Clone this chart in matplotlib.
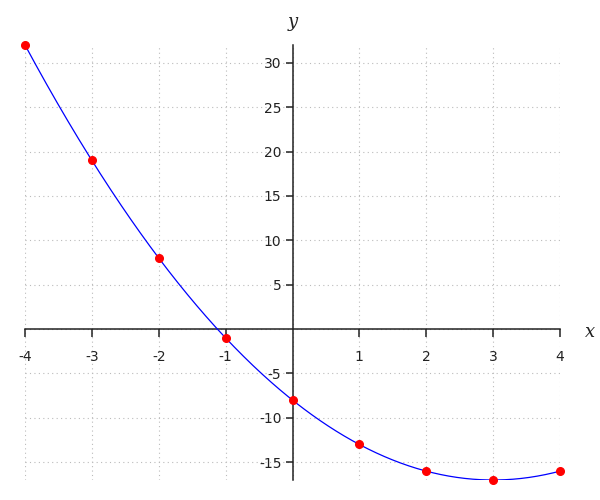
import matplotlib
matplotlib.use("Agg")
import matplotlib.pyplot as plt
import numpy as np

# data points
xs = [-4, -3, -2, -1, 0, 1, 2, 3, 4]
ys = [32, 19, 8, -1, -8, -13, -16, -17, -16]
xticks = [-4, -3, -2, -1, 1, 2, 3, 4]
yticks = [-15, -10, -5, 5, 10, 15, 20, 25, 30]

plt.rcParams['axes.unicode_minus'] = False

fig = plt.figure(figsize=(6, 5), dpi=100)
ax = fig.add_axes([25 / 600, 20 / 500, 535 / 600, 435 / 500])

# smooth curve through the points (quadratic fit of the read values)
coef = np.polyfit(xs, ys, 2)
xx = np.linspace(min(xs), max(xs), 400)
ax.plot(xx, np.polyval(coef, xx), color='blue', lw=0.9, zorder=3)
ax.plot(xs, ys, 'o', color='red', ms=5.5, zorder=4, clip_on=False)

ax.set_xlim(-4, 4)
ax.set_ylim(-17, 32)

for s in ['top', 'right']:
    ax.spines[s].set_visible(False)
ax.spines['left'].set_position(('data', 0))
ax.spines['bottom'].set_position(('data', 0))
for s in ['left', 'bottom']:
    ax.spines[s].set_color('#222222')
    ax.spines[s].set_linewidth(1.1)

ax.set_xticks(xticks)
ax.set_yticks(yticks)
ax.set_xticklabels([str(t) for t in xticks])
ax.set_yticklabels([str(t) for t in yticks])
ax.tick_params(axis='x', direction='out', length=6, width=1.1, pad=9,
               labelsize=10, colors='#222222')
ax.tick_params(axis='y', direction='out', length=5, width=1.1, pad=3,
               labelsize=10, colors='#222222')

# dotted grid at every integer / every 5
for gx in range(-4, 5):
    ax.axvline(gx, color='#bbbbbb', ls=(0, (1, 3)), lw=0.8, zorder=0)
for gy in range(-15, 31, 5):
    ax.axhline(gy, color='#bbbbbb', ls=(0, (1, 3)), lw=0.8, zorder=0)

fig.text(590 / 600, 1 - 332 / 500, 'x', fontsize=13, family='serif',
         style='italic', ha='center', va='center', color='#222222')
fig.text(293 / 600, 1 - 22 / 500, 'y', fontsize=13, family='serif',
         style='italic', ha='center', va='center', color='#222222')

fig.savefig('out.png', dpi=100)
